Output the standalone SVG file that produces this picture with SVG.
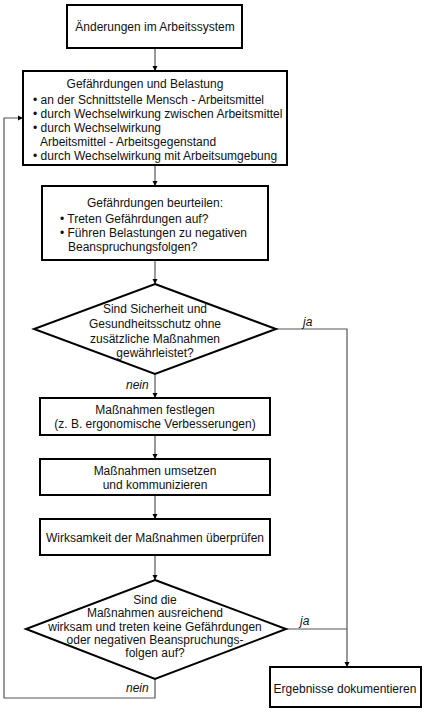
<svg xmlns="http://www.w3.org/2000/svg" width="426" height="712" viewBox="0 0 426 712">
<defs>
<marker id="ah" markerWidth="6" markerHeight="6" refX="5" refY="3" orient="auto" markerUnits="userSpaceOnUse">
<path d="M0,0.5 L5,3 L0,5.5 Z" fill="#000"/>
</marker>
<style>
.box{fill:#fff;stroke:#000;stroke-width:2}
.con{fill:none;stroke:#555;stroke-width:1.2}
text{font-family:"Liberation Sans",Arial,sans-serif;font-size:12px;fill:#111}
.c{text-anchor:middle}
.i{font-style:italic}
</style>
</defs>
<rect width="426" height="712" fill="#fff"/>
<g id="connectors">
<path class="con" d="M155,48 V71" marker-end="url(#ah)"/>
<path class="con" d="M155,165 V186" marker-end="url(#ah)"/>
<path class="con" d="M155,260 V284" marker-end="url(#ah)"/>
<path class="con" d="M155,374 V398" marker-end="url(#ah)"/>
<path class="con" d="M155,435 V459" marker-end="url(#ah)"/>
<path class="con" d="M155,495 V519" marker-end="url(#ah)"/>
<path class="con" d="M155,555 V580" marker-end="url(#ah)"/>
<path class="con" d="M276,329 H347 V667" marker-end="url(#ah)"/>
<path class="con" d="M286,629 H347"/>
<path class="con" d="M155,679 V698 H4 V118 H23" marker-end="url(#ah)"/>
<text class="i" x="303" y="326">ja</text>
<text class="i" x="300" y="625">ja</text>
<text class="i" x="126" y="389">nein</text>
<text class="i" x="126" y="692">nein</text>
</g>
<g id="n1">
<rect class="box" x="67" y="5" width="175" height="43"/>
<text class="c" x="155" y="31">Änderungen  im  Arbeitssystem</text>
</g>
<g id="n2">
<rect class="box" x="23" y="71" width="264" height="94"/>
<text class="c" x="145" y="88">Gefährdungen und Belastung</text>
<text x="33" y="104">• an der Schnittstelle Mensch - Arbeitsmittel</text>
<text x="33" y="118">• durch Wechselwirkung zwischen Arbeitsmittel</text>
<text x="33" y="132">• durch Wechselwirkung</text>
<text x="40" y="146">Arbeitsmittel - Arbeitsgegenstand</text>
<text x="33" y="160">• durch Wechselwirkung mit Arbeitsumgebung</text>
</g>
<g id="n3">
<rect class="box" x="42" y="186" width="226" height="74"/>
<text class="c" x="155" y="207">Gefährdungen beurteilen:</text>
<text x="60" y="223">• Treten Gefährdungen auf?</text>
<text x="60" y="237">• Führen Belastungen zu negativen</text>
<text x="68" y="251">Beanspruchungsfolgen?</text>
</g>
<g id="d1">
<polygon class="box" points="155,284 276,329 155,374 34,329"/>
<text class="c" x="155" y="313">Sind Sicherheit und</text>
<text class="c" x="155" y="328">Gesundheitsschutz ohne</text>
<text class="c" x="155" y="343">zusätzliche Maßnahmen</text>
<text class="c" x="155" y="357">gewährleistet?</text>
</g>
<g id="n4">
<rect class="box" x="40" y="398" width="230" height="37"/>
<text class="c" x="155" y="414">Maßnahmen festlegen</text>
<text class="c" x="155" y="428">(z. B. ergonomische Verbesserungen)</text>
</g>
<g id="n5">
<rect class="box" x="40" y="459" width="230" height="36"/>
<text class="c" x="155" y="475">Maßnahmen umsetzen</text>
<text class="c" x="155" y="489">und kommunizieren</text>
</g>
<g id="n6">
<rect class="box" x="40" y="519" width="230" height="36"/>
<text class="c" x="155" y="542">Wirksamkeit der Maßnahmen überprüfen</text>
</g>
<g id="d2">
<polygon class="box" points="155,580 286,629 155,679 26,629"/>
<text class="c" x="155" y="604">Sind die</text>
<text class="c" x="155" y="617">Maßnahmen ausreichend</text>
<text class="c" x="155" y="631">wirksam und treten keine Gefährdungen</text>
<text class="c" x="155" y="644">oder negativen Beanspruchungs-</text>
<text class="c" x="155" y="657">folgen auf?</text>
</g>
<g id="n7">
<rect class="box" x="270" y="667" width="151" height="40"/>
<text class="c" x="345" y="693">Ergebnisse dokumentieren</text>
</g>
</svg>
